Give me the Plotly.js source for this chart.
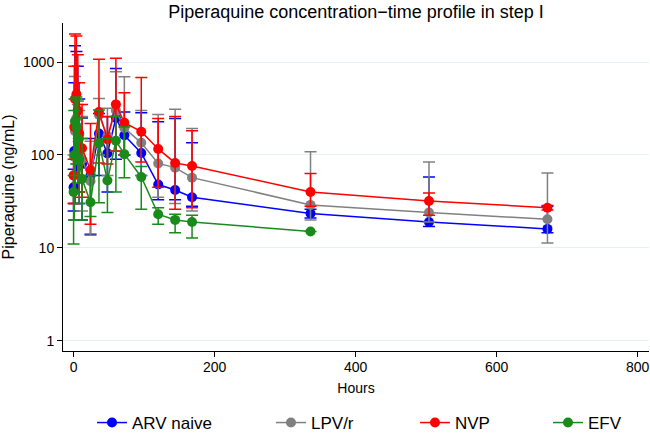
<!DOCTYPE html>
<html>
<head>
<meta charset="utf-8">
<script src="https://cdn.plot.ly/plotly-3.0.1.min.js"></script>
<style>
  html, body { margin: 0; padding: 0; background: #fff; }
  #chart { width: 650px; height: 433px; }
</style>
</head>
<body>
<div id="chart"></div>
<script>
// sampling times (hours)
var hours = [0, 1, 2, 4, 6, 8, 12, 24, 36, 48, 60, 72, 96, 120, 144, 168, 336, 504, 672];

// ARV naive
var naiveMean  = [45, 110, 200, 180, 140, 110, 80, 60, 170, 104, 250, 163, 105, 48, 42, 35, 23.5, 19, 16];
var naiveUpper = [70, 600, 1500, 1300, 900, 400, 250, 150, 280, 260, 850, 290, 284, 228, 247, 135, 26, 58, 28];
var naiveLower = [25, 20, 30, 60, 40, 30, 20, 14, 60, 40, 90, 100, 60, 33, 33, 28, 21, 17, 14.5];

// LPV/r
var lpvMean  = [60, 95, 180, 250, 200, 150, 90, 52, 270, 160, 300, 195, 135, 81, 73, 57, 29, 24, 20.3];
var lpvUpper = [100, 400, 700, 400, 350, 300, 260, 140, 406, 318, 785, 695, 300, 273, 311, 193, 108, 84, 64];
var lpvLower = [30, 20, 40, 80, 60, 40, 25, 13.7, 100, 60, 110, 100, 60, 35, 30, 25, 20, 19, 11.3];

// NVP
var nvpMean  = [60, 200, 400, 450, 300, 170, 118, 69, 290, 147, 350, 222, 178, 116, 82, 76, 40, 32, 27];
var nvpUpper = [90, 900, 2000, 1900, 1200, 600, 350, 218, 1070, 258, 1100, 467, 680, 247, 260, 182, 63, 39, 28.5];
var nvpLower = [30, 30, 60, 100, 60, 40, 35, 18, 82, 80, 110, 100, 84, 45, 26, 27, 28, 22.4, 25.5];

// EFV
var efvMean  = [40, 100, 230, 200, 150, 90, 55, 31, 134, 53, 142, 102, 58, 23, 20, 19, 15];
var efvUpper = [60, 300, 400, 420, 380, 250, 150, 60, 304, 150, 260, 200, 75, 27, 23, 22.5, 15];
var efvLower = [11, 20, 40, 80, 50, 30, 20, 21.7, 30.5, 24, 40, 57, 26, 18, 14.5, 12.8, 15];

var groups = [
  {name: 'ARV naive', mean: naiveMean, up: naiveUpper, lo: naiveLower, color: '#0000ff', legend: 'legend'},
  {name: 'LPV/r', mean: lpvMean, up: lpvUpper, lo: lpvLower, color: '#808080', legend: 'legend2'},
  {name: 'NVP', mean: nvpMean, up: nvpUpper, lo: nvpLower, color: '#ff0000', legend: 'legend3'},
  {name: 'EFV', mean: efvMean, up: efvUpper, lo: efvLower, color: '#1a8a1a', legend: 'legend4'}
];

var traces = groups.map(function (g) {
  return {
    x: hours.slice(0, g.mean.length),
    y: g.mean,
    name: g.name,
    legend: g.legend,
    showlegend: true,
    type: 'scatter',
    mode: 'lines+markers',
    line: {color: g.color, width: 1.5},
    marker: {color: g.color, size: 10},
    error_y: {
      type: 'data',
      symmetric: false,
      array: g.up.map(function (u, i) { return u - g.mean[i]; }),
      arrayminus: g.lo.map(function (l, i) { return g.mean[i] - l; }),
      color: g.color,
      thickness: 1.5,
      width: 6
    }
  };
});

// plot area in pixels: x 63..649, y 23..351
// one legend per group, placed like the original row
function legendAt(px) {
  return {
    x: (px - 63) / 586, xanchor: 'left',
    y: -(423 - 351) / 328, yanchor: 'middle',
    font: {size: 17},
    bgcolor: 'rgba(0,0,0,0)'
  };
}

var layout = {
  width: 650,
  height: 433,
  showlegend: true,
  margin: {l: 63, r: 1, t: 23, b: 82, autoexpand: false},
  paper_bgcolor: '#fff',
  plot_bgcolor: '#fff',
  font: {family: 'Liberation Sans, Arial, sans-serif', size: 14, color: '#000'},
  title: {
    text: 'Piperaquine concentration\u2212time profile in step I',
    font: {size: 18},
    xref: 'paper', x: 0.5, xanchor: 'center',
    yref: 'container', y: 1 - 12 / 433, yanchor: 'middle'
  },
  xaxis: {
    title: {text: 'Hours', font: {size: 14}, standoff: 9},
    range: [-15, 816],
    tickvals: [0, 200, 400, 600, 800],
    ticks: 'outside', ticklen: 5, tickcolor: '#000',
    ticklabelstandoff: -2,
    showline: true, linecolor: '#000', linewidth: 1,
    showgrid: false, zeroline: false
  },
  yaxis: {
    title: {text: 'Piperaquine (ng/mL)', font: {size: 16}, standoff: 6},
    type: 'log',
    range: [-0.11, 3.42],
    tickvals: [1, 10, 100, 1000],
    ticktext: ['1', '10', '100', '1000'],
    ticks: 'outside', ticklen: 5, tickcolor: '#000',
    showline: true, linecolor: '#000', linewidth: 1,
    showgrid: true, gridcolor: '#e6eff1', zeroline: false
  },
  legend: legendAt(92),
  legend2: legendAt(271),
  legend3: legendAt(415),
  legend4: legendAt(548)
};

Plotly.newPlot('chart', traces, layout, {displayModeBar: false});
</script>
</body>
</html>
